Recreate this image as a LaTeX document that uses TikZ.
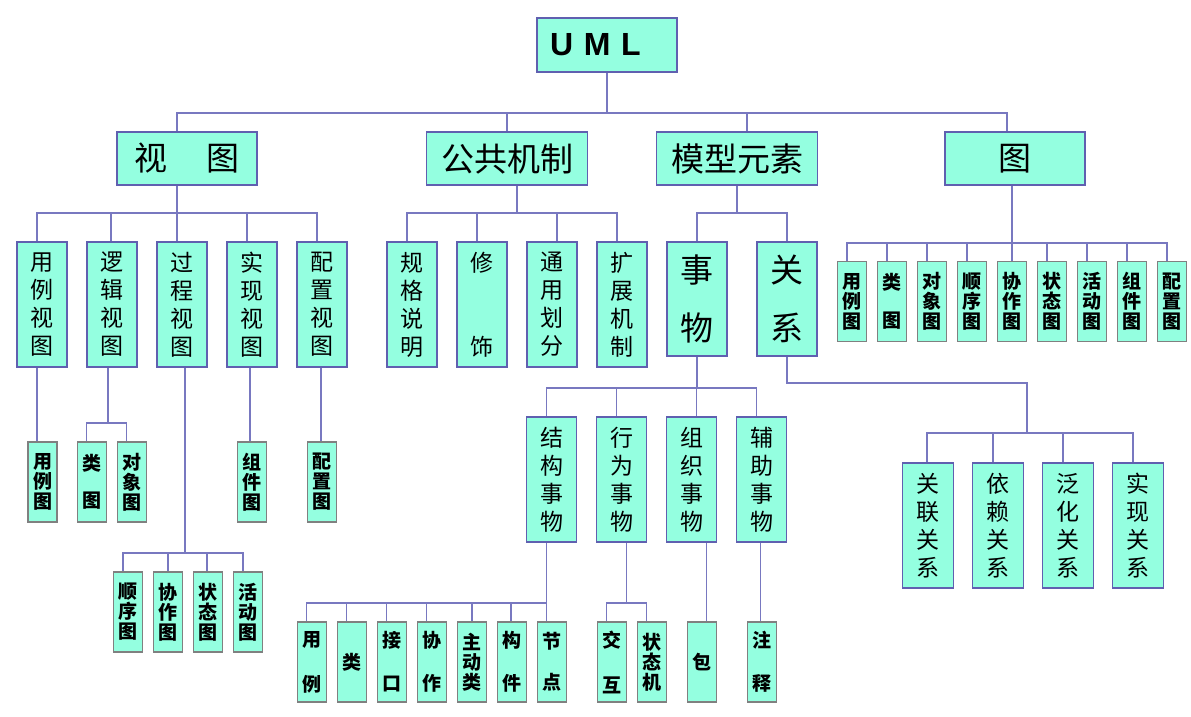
\documentclass[tikz,border=0pt]{standalone}
\usepackage{fontspec}
\setmainfont{Liberation Sans}
\newfontfamily\cjk{Noto Sans CJK SC}
\usetikzlibrary{calc}

\definecolor{aqua}{RGB}{148,255,224}
\definecolor{edgeblue}{RGB}{96,96,176}
\definecolor{linkblue}{RGB}{120,120,192}
\definecolor{edgegray}{RGB}{128,128,128}

\tikzset{
  box/.style={draw=edgeblue, fill=aqua, line width=1.5pt, inner sep=0pt, align=center},
  head/.style={box, minimum height=53pt, font=\cjk\fontsize{33}{40}\selectfont},
  tall/.style={box, minimum width=50pt, minimum height=125pt, font=\cjk\fontsize{23}{28}\selectfont},
  big/.style={box, minimum width=60pt, minimum height=114pt, font=\cjk\fontsize{33}{58}\selectfont},
  leaf/.style={box, draw=edgegray, minimum width=29pt, minimum height=80pt, font=\cjk\bfseries\fontsize{19}{20}\selectfont},
  link/.style={draw=linkblue, line width=1.5pt},
}

\begin{document}
\begin{tikzpicture}[x=1pt,y=-1pt]
  \useasboundingbox (0,0) rectangle (1191,716);

  %%%%% top %%%%%
  \node[box, minimum width=140pt, minimum height=54pt, text width=114pt, align=left,
        font=\bfseries\fontsize{32}{36}\selectfont] (uml) at (607,45) {U M L};

  \node[head, minimum width=140pt] (view) at (187,158.5) {视\hspace{40pt}图};
  \node[head, minimum width=161pt] (mech) at (507,158.5) {公共机制};
  \node[head, minimum width=161pt] (elem) at (737,158.5) {模型元素};
  \node[head, minimum width=140pt] (diag) at (1015,158.5) {图};

  \path (uml.south) ++(0,40) coordinate (bar0);
  \draw[link] (uml.south) -- (bar0);
  \foreach \c/\dx in {view/-10, mech/0, elem/10, diag/-8}
    \draw[link] (bar0) -| ([xshift=\dx]\c.north);

  %%%%% views %%%%%
  \node[tall] (vuse) at (42,304.5) {用\\例\\视\\图};
  \node[tall] (vlogic) at (112,304.5) {逻\\辑\\视\\图};
  \node[tall] (vproc) at (182,304.5) {过\\程\\视\\图};
  \node[tall] (vimpl) at (252,304.5) {实\\现\\视\\图};
  \node[tall] (vdeploy) at (322,304.5) {配\\置\\视\\图};

  \path ([xshift=-10]view.south) ++(0,27) coordinate (bar1);
  \draw[link] ([xshift=-10]view.south) -- (bar1);
  \foreach \c/\dx in {vuse/-5, vlogic/-1, vproc/-5, vimpl/-5, vdeploy/-5}
    \draw[link] (bar1) -| ([xshift=\dx]\c.north);

  \node[leaf] (ucd) at (42.5,482) {用\\例\\图};
  \node[leaf] (ccd) at (92.2,482) {类\\[17pt]图};
  \node[leaf] (ocd) at (132.2,482) {对\\象\\图};
  \node[leaf] (cmd) at (252.2,482) {组\\件\\图};
  \node[leaf] (dpd) at (322.2,482) {配\\置\\图};

  \draw[link] ([xshift=-5]vuse.south) -- ([xshift=-5]vuse.south |- ucd.north);
  \draw[link] ([xshift=-2]vimpl.south) -- ([xshift=-2]vimpl.south |- cmd.north);
  \draw[link] ([xshift=-1]vdeploy.south) -- ([xshift=-1]vdeploy.south |- dpd.north);

  \path ([xshift=-4]vlogic.south) ++(0,55) coordinate (bar2);
  \draw[link] ([xshift=-4]vlogic.south) -- (bar2);
  \foreach \c in {ccd, ocd}
    \draw[link] (bar2) -| ([xshift=-5.5]\c.north);

  \node[leaf] (sqd) at (128,612) {顺\\序\\图};
  \node[leaf] (cod) at (168,612) {协\\作\\图};
  \node[leaf] (std) at (208,612) {状\\态\\图};
  \node[leaf] (acd) at (248,612) {活\\动\\图};

  \path ([xshift=3]vproc.south) ++(0,185) coordinate (bar3);
  \draw[link] ([xshift=3]vproc.south) -- (bar3);
  \foreach \c/\dx in {sqd/-5, cod/0, std/-1, acd/-5}
    \draw[link] (bar3) -| ([xshift=\dx]\c.north);

  %%%%% common mechanisms %%%%%
  \node[tall] (spec) at (412,304.5) {规\\格\\说\\明};
  \node[tall] (adorn) at (482,304.5) {修\\[56pt]饰};
  \node[tall] (divide) at (552,304.5) {通\\用\\划\\分};
  \node[tall] (extend) at (622,304.5) {扩\\展\\机\\制};

  \path ([xshift=10]mech.south) ++(0,27) coordinate (bar4);
  \draw[link] ([xshift=10]mech.south) -- (bar4);
  \foreach \c/\dx in {spec/-5, adorn/-5, divide/5, extend/-5}
    \draw[link] (bar4) -| ([xshift=\dx]\c.north);

  %%%%% model elements %%%%%
  \node[big] (thing) at (697,299) {事\\物};
  \node[big] (rel) at (787,299) {关\\系};

  \path (elem.south) ++(0,27) coordinate (bar5);
  \draw[link] (elem.south) -- (bar5);
  \foreach \c in {thing, rel}
    \draw[link] (bar5) -| (\c.north);

  \node[tall] (tstruct) at (551.7,479.5) {结\\构\\事\\物};
  \node[tall] (tbehav) at (621.7,479.5) {行\\为\\事\\物};
  \node[tall] (tgroup) at (691.7,479.5) {组\\织\\事\\物};
  \node[tall] (tnote) at (761.7,479.5) {辅\\助\\事\\物};

  \path (thing.south) ++(0,31) coordinate (bar6);
  \draw[link] (thing.south) -- (bar6);
  \foreach \c/\dx in {tstruct/-5, tbehav/-5, tgroup/5, tnote/-5}
    \draw[link] (bar6) -| ([xshift=\dx]\c.north);

  \node[leaf] (s0) at (312.2,662) {用\\[25pt]例};
  \node[leaf] (s1) at (352.2,662) {类};
  \node[leaf] (s2) at (392.2,662) {接\\[23pt]口};
  \node[leaf] (s3) at (432.2,662) {协\\[23pt]作};
  \node[leaf] (s4) at (472.2,662) {主\\动\\类};
  \node[leaf] (s5) at (512.2,662) {构\\[23pt]件};
  \node[leaf] (s6) at (552.2,662) {节\\[21pt]点};

  \path ([xshift=-5]tstruct.south) ++(0,60) coordinate (bar7);
  \draw[link] ([xshift=-5]tstruct.south) -- (bar7);
  \foreach \c/\dx in {s0/-5.5, s1/-5.5, s2/-5.5, s3/-5.5, s4/0, s5/-1, s6/-5.5}
    \draw[link] (bar7) -| ([xshift=\dx]\c.north);

  \node[leaf] (b0) at (612.2,662) {交\\[25pt]互};
  \node[leaf] (b1) at (652.2,662) {状\\态\\机};

  \path ([xshift=5]tbehav.south) ++(0,60) coordinate (bar8);
  \draw[link] ([xshift=5]tbehav.south) -- (bar8);
  \foreach \c in {b0, b1}
    \draw[link] (bar8) -| ([xshift=-5.5]\c.north);

  \node[leaf] (pkg) at (702.2,662) {包};
  \node[leaf] (ann) at (762.2,662) {注\\[23pt]释};

  \draw[link] ([xshift=15]tgroup.south) -- ([xshift=15]tgroup.south |- pkg.north);
  \draw[link] ([xshift=-1]tnote.south) -- ([xshift=-1]tnote.south |- ann.north);

  %%%%% relationships %%%%%
  \node[tall, minimum width=50.6pt] (r0) at (928,525.5) {关\\联\\关\\系};
  \node[tall, minimum width=50.6pt] (r1) at (998,525.5) {依\\赖\\关\\系};
  \node[tall, minimum width=50.6pt] (r2) at (1068,525.5) {泛\\化\\关\\系};
  \node[tall, minimum width=50.6pt] (r3) at (1138,525.5) {实\\现\\关\\系};

  \path (rel.south) ++(0,26) coordinate (relk) ++(240,0) coordinate (relm) ++(0,50) coordinate (bar9);
  \draw[link] (rel.south) -- (relk) -- (relm) -- (bar9);
  \foreach \c/\dx in {r0/-1, r1/-5, r2/-5, r3/-5}
    \draw[link] (bar9) -| ([xshift=\dx]\c.north);

  %%%%% diagrams %%%%%
  \foreach \t [count=\i from 0] in {用\\例\\图, 类\\[18pt]图, 对\\象\\图, 顺\\序\\图, 协\\作\\图, 状\\态\\图, 活\\动\\图, 组\\件\\图, 配\\置\\图}
    \node[leaf] (d\i) at (852.2+40*\i,301.7) {\t};

  \path ([xshift=-3]diag.south) ++(0,57) coordinate (bard);
  \draw[link] ([xshift=-3]diag.south) -- (bard);
  \foreach \i/\dx in {0/-5, 1/-5, 2/-5, 3/-5, 4/0, 5/-5, 6/-5, 7/-5, 8/-5}
    \draw[link] (bard) -| ([xshift=\dx]d\i.north);
\end{tikzpicture}
\end{document}
